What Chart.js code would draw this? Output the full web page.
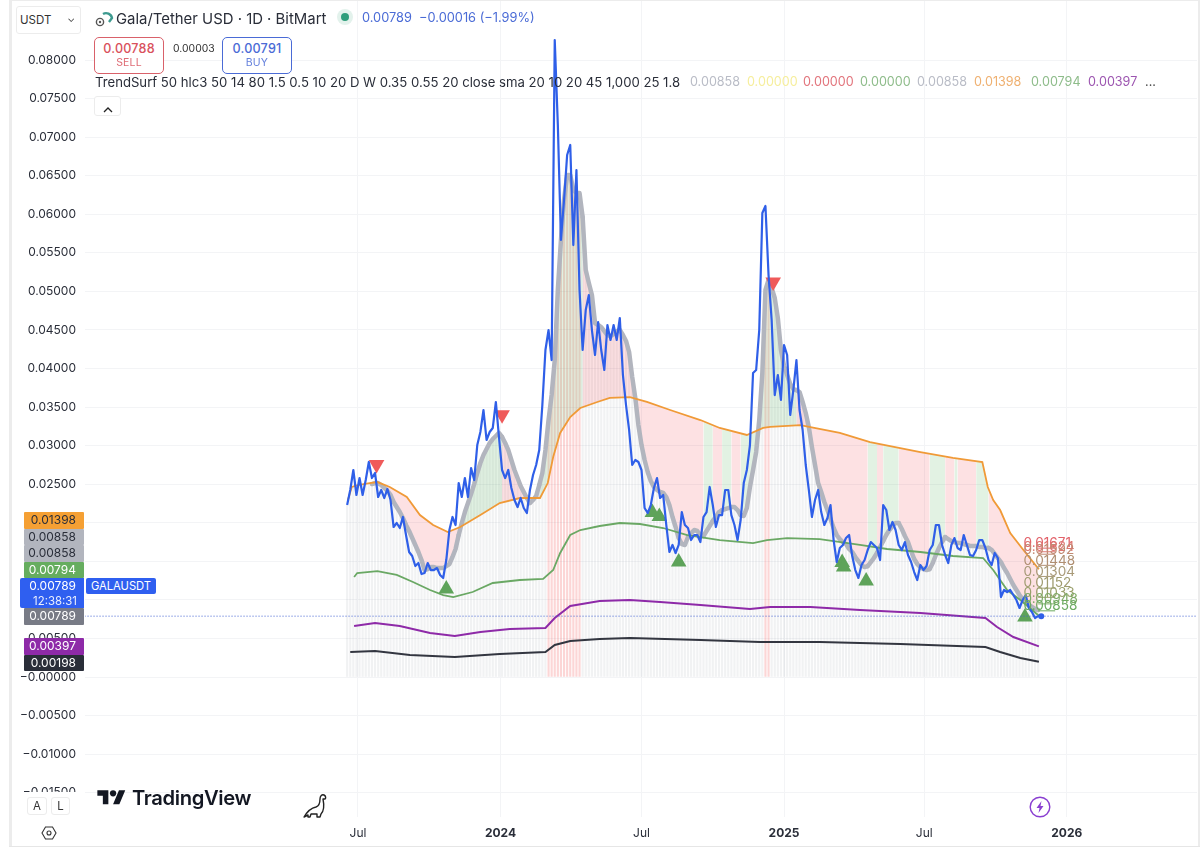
<!DOCTYPE html>
<html>
<head>
<meta charset="utf-8">
<title>GALAUSDT</title>
<script src="https://cdn.jsdelivr.net/npm/chart.js@4"></script>
<style>
  html, body { margin: 0; padding: 0; background: #fff; overflow: hidden; }
  body { width: 1200px; height: 856px; position: relative; font-family: Inter, "Noto Sans", sans-serif; color: #2a2e39; }
  canvas { position: absolute; left: 0; top: 0; }
  .abs { position: absolute; white-space: nowrap; }
  .tag { position: absolute; left: 24px; width: 60px; height: 16.5px; line-height: 16.5px; font-size: 12px; text-align: right; box-sizing: border-box; padding-right: 8px; border-radius: 1px; }
  .order { position: absolute; top: 37px; width: 70px; height: 37px; box-sizing: border-box; border-radius: 5px; border: 1px solid; text-align: center; background: #fff; }
  .order b { display: block; font-weight: 500; font-size: 12.6px; line-height: 14px; margin-top: 4px; letter-spacing: .2px; }
  .order span { display: block; font-size: 10.5px; line-height: 14px; letter-spacing: .2px; opacity: .85; }
  .btn { position: absolute; box-sizing: border-box; border: 1px solid #ececec; border-radius: 3px; background: #fff; text-align: center; }
  .val { position: absolute; top: 75px; font-size: 12.6px; line-height: 14px; white-space: nowrap; }
</style>
</head>
<body>
<canvas id="myChart" width="1200" height="856"></canvas>

<div class="abs" style="left:9px;top:0;width:3px;height:846px;background:#ececec"></div>
<div class="abs" style="left:9px;top:0;width:1191px;height:1px;background:#ececec"></div>
<div class="abs" style="left:1198px;top:0;width:2px;height:846px;background:#ececec"></div>
<div class="abs" style="left:9px;top:846px;width:1191px;height:1px;background:#e6e6e6"></div>

<div class="btn" style="left:16px;top:6px;width:65px;height:28px;line-height:26px;text-align:left;padding-left:3px;font-size:11.5px;color:#333">USDT<span style="position:absolute;right:5px;top:-2px;font-size:10px">⌄</span></div>
<svg class="abs" style="left:95px;top:9px" width="20" height="18" viewBox="0 0 20 18">
  <circle cx="5" cy="13" r="3.6" fill="none" stroke="#555" stroke-width="1.4"/>
  <circle cx="5" cy="13" r="1.2" fill="#555"/>
  <path d="M8 5 A6 6 0 0 1 17 9 L14 13" fill="none" stroke="#3d9a8f" stroke-width="2.4"/>
</svg>
<div class="abs" style="left:116px;top:10px;font-size:14.9px;line-height:18px;color:#2a2e39">Gala/Tether USD · 1D · BitMart</div>
<svg class="abs" style="left:336px;top:8px" width="18" height="18"><circle cx="9" cy="9" r="8" fill="#e3f2ec"/><circle cx="9" cy="9" r="4" fill="#2f9e7c"/></svg>
<div class="abs" style="left:362px;top:10px;font-size:12.8px;line-height:16px;color:#4a6bd6">0.00789&nbsp; −0.00016 (−1.99%)</div>

<div class="order" style="left:94px;border-color:#d9616a;color:#d9515c"><b>0.00788</b><span>SELL</span></div>
<div class="abs" style="left:173px;top:42px;font-size:10.4px;line-height:14px;color:#333">0.00003</div>
<div class="order" style="left:222px;border-color:#4a6bd6;color:#4a6bd6"><b>0.00791</b><span>BUY</span></div>

<div class="val" style="left:95px;color:#2a2e39;font-size:13.15px">TrendSurf 50 hlc3 50 14 80 1.5 0.5 10 20 D W 0.35 0.55 20 close sma 20 10 20 45 1,000 25 1.8</div>
<div class="val" style="left:690px;color:#b9bcc6">0.00858</div>
<div class="val" style="left:747px;color:#f6ee9c">0.00000</div>
<div class="val" style="left:803px;color:#e2747c">0.00000</div>
<div class="val" style="left:860px;color:#8ebc8a">0.00000</div>
<div class="val" style="left:917px;color:#b9bcc6">0.00858</div>
<div class="val" style="left:974px;color:#efb070">0.01398</div>
<div class="val" style="left:1031px;color:#8ebc8a">0.00794</div>
<div class="val" style="left:1088px;color:#9c55b0">0.00397</div>
<div class="val" style="left:1145px;color:#444">...</div>

<div class="btn" style="left:94px;top:96px;width:27px;height:20px">
  <svg width="10" height="6" style="margin-top:6px"><path d="M1 5 L5 1 L9 5" fill="none" stroke="#222" stroke-width="1.3"/></svg>
</div>

<div class="tag" style="top:512px;background:#f5a034;color:#2a2e39">0.01398</div>
<div class="tag" style="top:528.5px;background:#b2b5be;color:#2a2e39">0.00858</div>
<div class="tag" style="top:545px;background:#b2b5be;color:#2a2e39">0.00858</div>
<div class="tag" style="top:561.5px;background:#66ad5f;color:#fff">0.00794</div>
<div class="tag" style="top:578px;left:20px;width:64px;height:30px;background:#2f5ff0;color:#fff;line-height:15px;border-radius:2px 0 0 2px">0.00789<br><span style="font-size:11.4px;margin-right:-1px;opacity:.9">12:38:31</span></div>
<div class="abs" style="left:86px;top:578px;width:70px;height:16px;line-height:16px;background:#2f5ff0;color:#fff;font-size:11.2px;text-align:center;border-radius:2px">GALAUSDT</div>
<div class="tag" style="top:608px;background:#787b86;color:#fff">0.00789</div>
<div class="tag" style="top:638px;background:#8e2aa8;color:#fff">0.00397</div>
<div class="tag" style="top:654.5px;background:#2a2e39;color:#fff">0.00198</div>

<div class="abs" style="left:12px;top:792px;width:73px;height:54px;background:#fff"></div>
<div class="btn" style="left:27px;top:797px;width:20px;height:18px;line-height:16px;font-size:11.5px;color:#333">A</div>
<div class="btn" style="left:51px;top:797px;width:19px;height:18px;line-height:16px;font-size:11.5px;color:#333">L</div>
<svg class="abs" style="left:41px;top:825px" width="16" height="16" viewBox="0 0 16 16">
  <path d="M4.5 2 H11.5 L15 8 L11.5 14 H4.5 L1 8 Z" fill="none" stroke="#333" stroke-width="1.1"/>
  <circle cx="8" cy="8" r="2" fill="none" stroke="#333" stroke-width="1.1"/>
</svg>

<svg class="abs" style="left:97px;top:787px" width="29" height="22" viewBox="0 0 36 28" fill="#131722">
  <path d="M14 22H7V11H0V4h14v18zM28 22h-8l7.5-18h8L28 22z"/><circle cx="20" cy="8" r="4"/>
</svg>
<div class="abs" style="left:132px;top:785px;font-size:20.2px;font-weight:600;line-height:26px;letter-spacing:-.35px;color:#131722">TradingView</div>
<svg class="abs" style="left:302px;top:792px" width="26" height="27" viewBox="0 0 26 27">
  <path d="M2 25 C5 20 9 16 14 15 C17 14 18 11 18 7 C18 4 20 2 22 3 C24 4 24 6 23 7 L21 7 C22 12 23 18 19 22 L18 25 H15 L15 22 H9 L8 25 H6 L6 23 Z" fill="#fff" stroke="#222" stroke-width="1.4" stroke-linejoin="round"/>
</svg>
<svg class="abs" style="left:1029px;top:796px" width="22" height="22" viewBox="0 0 22 22">
  <circle cx="11" cy="11" r="9.8" fill="#fff" stroke="#8a3fd1" stroke-width="1.4"/>
  <path d="M12.5 5 L7.5 12 H10.5 L9.5 17 L14.5 10 H11.5 Z" fill="#8a3fd1"/>
</svg>

<script>
// days counted from 1 Jul 2023, price and MA sampled every 4 days
const firstDay = -14;
const dayStep = 4;

const priceValues = [
  0.02230,0.02425,0.02684,0.02360,0.02580,0.02360,0.02554,0.02788,0.02580,0.02645,
  0.02334,0.02425,0.02321,0.02438,0.02295,0.01945,0.01997,0.01932,0.02075,0.01841,
  0.01621,0.01569,0.01439,0.01478,0.01335,0.01348,0.01478,0.01387,0.01387,0.01413,
  0.01323,0.01284,0.01517,0.01906,0.02075,0.01971,0.02515,0.02334,0.02580,0.02334,
  0.02710,0.02554,0.03008,0.03177,0.03462,0.03073,0.03177,0.03229,0.03566,0.03112,
  0.02684,0.02580,0.02684,0.02451,0.02295,0.02204,0.02321,0.02191,0.02126,0.02425,
  0.02619,0.02749,0.02943,0.03527,0.04240,0.04499,0.04110,0.08259,0.07157,0.05666,
  0.06185,0.06768,0.06898,0.05601,0.06574,0.05018,0.04240,0.04759,0.04953,0.04499,
  0.04175,0.04603,0.04240,0.03981,0.04564,0.04370,0.04564,0.04370,0.04655,0.03916,
  0.03527,0.03203,0.02749,0.02814,0.02788,0.02684,0.02191,0.02126,0.02230,0.02451,
  0.02580,0.02321,0.02360,0.01971,0.01621,0.01712,0.01608,0.01712,0.02139,0.01971,
  0.01932,0.01776,0.01841,0.01841,0.01750,0.02075,0.02139,0.02464,0.02230,0.01945,
  0.02100,0.02100,0.02425,0.02425,0.02100,0.01971,0.01776,0.02036,0.02515,0.02684,
  0.03008,0.03942,0.03981,0.04499,0.06016,0.06107,0.05212,0.04629,0.03656,0.03916,
  0.03592,0.04305,0.04175,0.03397,0.03721,0.04110,0.03462,0.03203,0.02749,0.02425,
  0.02075,0.02295,0.02425,0.02139,0.01971,0.02062,0.02230,0.01776,0.01491,0.01673,
  0.01712,0.01802,0.01841,0.01569,0.01387,0.01284,0.01452,0.01517,0.01647,0.01750,
  0.01712,0.01673,0.01517,0.02230,0.02165,0.01906,0.02010,0.01906,0.01712,0.01647,
  0.01750,0.01582,0.01491,0.01361,0.01258,0.01452,0.01387,0.01439,0.01647,0.01712,
  0.01971,0.01971,0.01712,0.01582,0.01478,0.01712,0.01802,0.01673,0.01647,0.01841,
  0.01712,0.01582,0.01569,0.01647,0.01776,0.01776,0.01673,0.01517,0.01452,0.01608,
  0.01543,0.01037,0.01128,0.01102,0.01128,0.01063,0.00998,0.00895,0.00998,0.01063,
  0.00895,0.00843,0.00765,0.00789,0.00789
];

// grey moving average starts 8 samples after the price
const grayOffset = 8;
const grayValues = [
  0.02502,0.02515,0.02515,0.02489,0.02451,0.02412,0.02360,0.02269,0.02204,0.02139,
  0.02062,0.01971,0.01893,0.01802,0.01712,0.01621,0.01517,0.01387,0.01400,0.01426,
  0.01426,0.01413,0.01413,0.01413,0.01439,0.01465,0.01556,0.01660,0.01841,0.01997,
  0.02139,0.02256,0.02373,0.02502,0.02645,0.02775,0.02878,0.02956,0.03034,0.03086,
  0.03125,0.03164,0.03112,0.03034,0.02943,0.02814,0.02684,0.02580,0.02476,0.02399,
  0.02321,0.02256,0.02295,0.02347,0.02489,0.02645,0.02943,0.03332,0.03656,0.04110,
  0.05018,0.05666,0.06185,0.06509,0.06509,0.06314,0.06276,0.06276,0.05964,0.05277,
  0.05109,0.04953,0.04590,0.04564,0.04538,0.04486,0.04434,0.04421,0.04447,0.04486,
  0.04499,0.04434,0.04357,0.04214,0.03890,0.03618,0.03267,0.03008,0.02814,0.02658,
  0.02541,0.02464,0.02425,0.02399,0.02386,0.02334,0.02230,0.02075,0.01945,0.01802,
  0.01724,0.01712,0.01815,0.01867,0.01906,0.01893,0.01841,0.01828,0.01893,0.01958,
  0.02023,0.02075,0.02139,0.02165,0.02178,0.02191,0.02204,0.02204,0.02165,0.02100,
  0.02088,0.02191,0.02464,0.02684,0.02917,0.03332,0.03942,0.05018,0.05148,0.05044,
  0.04914,0.04655,0.04240,0.04032,0.03916,0.03799,0.03734,0.03721,0.03695,0.03566,
  0.03423,0.03242,0.02982,0.02749,0.02515,0.02399,0.02269,0.02165,0.02049,0.01932,
  0.01841,0.01789,0.01750,0.01724,0.01660,0.01621,0.01556,0.01504,0.01452,0.01426,
  0.01439,0.01491,0.01543,0.01608,0.01686,0.01763,0.01841,0.01906,0.01958,0.01997,
  0.01997,0.01919,0.01828,0.01750,0.01634,0.01530,0.01465,0.01426,0.01400,0.01387,
  0.01400,0.01478,0.01582,0.01673,0.01750,0.01815,0.01789,0.01763,0.01750,0.01737,
  0.01737,0.01724,0.01712,0.01699,0.01699,0.01699,0.01686,0.01686,0.01673,0.01673,
  0.01647,0.01595,0.01543,0.01491,0.01413,0.01348,0.01271,0.01193,0.01128,0.01063,
  0.01011,0.00972,0.00934,0.00908,0.00882,0.00869
];
// column heights before the grey line begins
const earlyColumns = [0.02230,0.02400,0.02460,0.02470,0.02489,0.02500,0.02505,0.02510];

const orangeDays = [-13,-8,0,15,25,41,63,80,97,116,132,158,183,209,235,245,252,261,274,287,309,325,351,373,403,442,467,502,523,532,571,622,661,726,768,806,813,820,829,842,859,879];
const orangeValues = [0.02295,0.02464,0.02489,0.02515,0.02528,0.02464,0.02334,0.02100,0.01971,0.01880,0.01945,0.02100,0.02256,0.02321,0.02321,0.02515,0.02853,0.03164,0.03371,0.03488,0.03566,0.03618,0.03630,0.03566,0.03462,0.03332,0.03229,0.03138,0.03229,0.03242,0.03267,0.03164,0.03047,0.02917,0.02840,0.02788,0.02464,0.02295,0.02165,0.01867,0.01647,0.01398];

const greenDays = [-5,-1,25,50,71,93,110,123,148,174,209,239,252,261,274,287,312,338,364,394,425,467,510,528,554,596,648,683,726,768,807,820,838,855,879];
const greenValues = [0.01297,0.01348,0.01374,0.01323,0.01232,0.01128,0.01063,0.01037,0.01102,0.01219,0.01258,0.01271,0.01387,0.01608,0.01841,0.01906,0.01958,0.01997,0.01984,0.01932,0.01841,0.01776,0.01737,0.01776,0.01802,0.01789,0.01712,0.01660,0.01621,0.01569,0.01543,0.01387,0.01128,0.00998,0.00794];

const purpleDays = [-5,22,54,93,125,158,196,242,254,274,312,351,390,442,506,532,584,648,726,810,825,846,879];
const purpleValues = [0.00661,0.00700,0.00661,0.00571,0.00532,0.00583,0.00622,0.00635,0.00765,0.00921,0.00985,0.00998,0.00972,0.00934,0.00882,0.00908,0.00908,0.00869,0.00830,0.00765,0.00648,0.00519,0.00397];

const darkDays = [-10,22,67,125,183,242,254,274,312,351,442,519,596,700,810,829,855,879];
const darkValues = [0.00324,0.00337,0.00285,0.00259,0.00298,0.00324,0.00415,0.00467,0.00493,0.00506,0.00480,0.00454,0.00454,0.00428,0.00389,0.00324,0.00246,0.00198];

const sellDays = [24,186,536];
const sellValues = [0.02755,0.03400,0.05122];
const buyDays = [114,380,389,414,625,627,656,861];
const buyValues = [0.01141,0.02133,0.02081,0.01491,0.01484,0.01426,0.01245,0.00778];

const redBands = [[245,287],[523,534]];
const greenBands = [[129,186],[231,287],[444,457],[467,479],[492,565],[658,670],[676,696],[736,757],[767,773],[797,811]];

const lastPrice = 0.00789;
const fibLevels = [0.01671,0.01624,0.01592,0.01448,0.01304,0.01152,0.01033,0.00948,0.00858];
const fibColors = ["#e2626a","#dd7570","#c08a72","#b08f72","#a89a78","#a09c70","#9aa06c","#7faa66","#6cab60"];
const fibDays = [878,900];

const yTicks = [-0.015,-0.01,-0.005,0,0.005,0.01,0.015,0.02,0.025,0.03,0.035,0.04,0.045,0.05,0.055,0.06,0.065,0.07,0.075,0.08];
const xTickDays = [0,184,366,550,731,915];
const xTickLabels = ["Jul","2024","Jul","2025","Jul","2026"];

const sampleDay = (i) => firstDay + i * dayStep;
const toPoints = (days, values) => values.map((y, i) => ({ x: days[i], y }));
const inBand = (bands, day) => bands.some(([a, b]) => day >= a && day < b);

const pricePoints = priceValues.map((y, i) => ({ x: sampleDay(i), y }));
const grayPoints = grayValues.map((y, i) => ({ x: sampleDay(i + grayOffset), y }));
const columnPoints = earlyColumns.map((y, i) => ({ x: sampleDay(i), y })).concat(grayPoints);

const lineStyle = (color, width) => ({
  type: "line",
  borderColor: color,
  borderWidth: width,
  pointRadius: 0,
  tension: 0,
  fill: false,
});

const fibSets = fibLevels.map((level, i) => ({
  ...lineStyle(fibColors[i], 1),
  data: fibDays.map((x) => ({ x, y: level })),
  order: 3,
}));

const orangeIndex = 2;
const datasets = [
  {
    type: "bar",
    data: columnPoints,
    barThickness: 1.5,
    backgroundColor: (c) => (c.raw && inBand(redBands, c.raw.x) ? "rgba(242,70,69,0.22)" : "rgba(120,123,134,0.1)"),
    order: 10,
  },
  {
    ...lineStyle("#b2b5be", 4.5),
    data: grayPoints,
    borderCapStyle: "round",
    borderJoinStyle: "round",
    backgroundColor: "rgba(242,54,69,0.15)",
    fill: { target: orangeIndex },
    segment: {
      backgroundColor: (c) => (inBand(greenBands, c.p0.parsed.x) ? "rgba(76,175,80,0.16)" : "rgba(242,54,69,0.15)"),
    },
    order: 8,
  },
  { ...lineStyle("#f09a37", 1.8), data: toPoints(orangeDays, orangeValues), order: 7 },
  { ...lineStyle("#6aa864", 1.8), data: toPoints(greenDays, greenValues), order: 6 },
  { ...lineStyle("#8e2aa8", 2), data: toPoints(purpleDays, purpleValues), order: 5 },
  { ...lineStyle("#333640", 2), data: toPoints(darkDays, darkValues), order: 4 },
  ...fibSets,
  {
    ...lineStyle("rgba(0,0,0,0)", 0),
    data: toPoints(sellDays, sellValues),
    showLine: false,
    pointStyle: "triangle",
    pointRotation: 180,
    pointRadius: 9,
    pointBackgroundColor: "#ef5a5a",
    pointBorderWidth: 0,
    order: 2,
  },
  {
    ...lineStyle("rgba(0,0,0,0)", 0),
    data: toPoints(buyDays, buyValues),
    showLine: false,
    pointStyle: "triangle",
    pointRadius: 9,
    pointBackgroundColor: "#5ea35a",
    pointBorderWidth: 0,
    order: 2,
  },
  {
    ...lineStyle("#3f5fd0", 1),
    data: [{ x: -353, y: lastPrice }, { x: 1084, y: lastPrice }],
    borderDash: [1, 2],
    order: 1,
  },
  {
    ...lineStyle("#2f5fe8", 2.2),
    data: pricePoints,
    borderJoinStyle: "round",
    pointRadius: (c) => (c.dataIndex === priceValues.length - 1 ? 3 : 0),
    pointBackgroundColor: "#2f5fe8",
    pointBorderWidth: 0,
    order: 0,
  },
];

// level labels beside the last bars
const fibLabels = {
  id: "fibLabels",
  afterDatasetsDraw(chart) {
    const { ctx, scales } = chart;
    ctx.save();
    ctx.font = "13.6px Inter";
    ctx.textBaseline = "bottom";
    fibLevels.forEach((level, i) => {
      ctx.fillStyle = fibColors[i];
      ctx.fillText(level.toFixed(5), scales.x.getPixelForValue(859), scales.y.getPixelForValue(level) + 2);
    });
    ctx.restore();
  },
};

const gridColor = "#f3f4f6";

const noScalePadding = (scale) => {
  scale.paddingLeft = 0;
  scale.paddingRight = 0;
  scale.paddingTop = 0;
  scale.paddingBottom = 0;
};

new Chart(document.getElementById("myChart"), {
  data: { datasets },
  plugins: [fibLabels],
  options: {
    responsive: false,
    animation: false,
    layout: { autoPadding: false, padding: { top: 1, right: 3, bottom: 11, left: 0 } },
    plugins: { legend: { display: false }, tooltip: { enabled: false } },
    scales: {
      x: {
        type: "linear",
        offset: false,
        min: -352.4,
        max: 1083.1,
        afterBuildTicks: (scale) => {
          scale.ticks = xTickDays.map((value) => ({ value }));
        },
        afterFit: (scale) => {
          scale.height = 28;
          noScalePadding(scale);
        },
        grid: { color: gridColor, drawTicks: false, offset: false },
        border: { display: false },
        ticks: {
          padding: 9,
          maxRotation: 0,
          autoSkip: false,
          color: "#2a2e39",
          font: (c) => ({ family: "Inter", size: 12, weight: c.index % 2 ? "700" : "400" }),
          callback: (value, i) => xTickLabels[i],
        },
      },
      y: {
        type: "linear",
        min: -0.01815,
        max: 0.08765,
        afterBuildTicks: (scale) => {
          scale.ticks = yTicks.map((value) => ({ value }));
        },
        afterFit: (scale) => {
          scale.width = 85;
          noScalePadding(scale);
        },
        grid: { color: gridColor, drawTicks: false },
        border: { display: false },
        ticks: {
          padding: 9,
          autoSkip: false,
          color: "#2a2e39",
          font: { family: "Inter", size: 12 },
          callback: (value) => (value <= 0 ? "−" : "") + Math.abs(value).toFixed(5),
        },
      },
    },
  },
});
</script>
</body>
</html>
